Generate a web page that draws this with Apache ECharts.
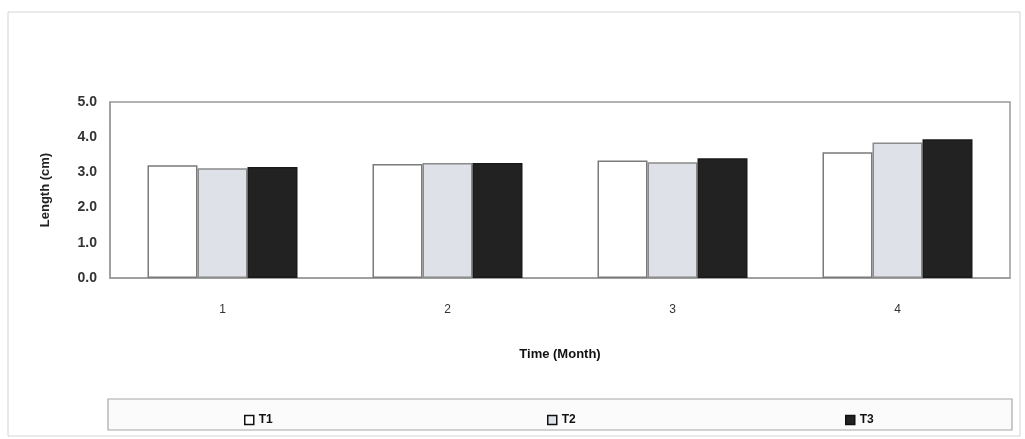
<!DOCTYPE html>
<html>
<head>
<meta charset="utf-8">
<title>Length over time</title>
<script src="https://cdn.jsdelivr.net/npm/echarts@6/dist/echarts.min.js"></script>
<style>
  html, body { margin: 0; padding: 0; background: #fff; }
  #chart { width: 1025px; height: 439px; }
</style>
</head>
<body>
<div id="chart"></div>
<script>
// Months on the x axis
const months = ['1', '2', '3', '4'];

// Mean length (cm) per treatment
const t1 = [3.20, 3.24, 3.34, 3.57];
const t2 = [3.12, 3.27, 3.29, 3.85];
const t3 = [3.15, 3.27, 3.40, 3.94];

const seriesNames = ['T1', 'T2', 'T3'];
// Horizontal position of each legend entry inside the legend box
const legendLeft = [239, 542, 840];

const chart = echarts.init(document.getElementById('chart'), null, { renderer: 'canvas' });

const fontFamily = '"Liberation Sans", Arial, sans-serif';

function barSeries(name, data, fill, border) {
  return {
    name: name,
    type: 'bar',
    data: data,
    barWidth: 50,
    barGap: '0%',
    itemStyle: { color: fill, borderColor: border, borderWidth: 1.5 },
    emphasis: { disabled: true }
  };
}

const legends = seriesNames.map((name, i) => ({
  data: [name],
  left: legendLeft[i],
  top: 409,
  itemWidth: 9,
  itemHeight: 9,
  icon: 'rect',
  selectedMode: false,
  itemStyle: { borderColor: '#111', borderWidth: 1.5 },
  textStyle: { fontFamily, fontSize: 12, fontWeight: 'bold', color: '#111' }
}));

chart.setOption({
  animation: false,
  backgroundColor: '#ffffff',
  grid: {
    left: 110, right: 15, top: 102, bottom: 161,
    show: true, borderColor: '#9a9a9a', borderWidth: 1.5, backgroundColor: 'transparent'
  },
  xAxis: {
    type: 'category',
    data: months,
    name: 'Time (Month)',
    nameLocation: 'middle',
    nameGap: 70,
    nameTextStyle: { fontFamily, fontSize: 13, fontWeight: 'bold', color: '#111' },
    axisLine: { show: true, lineStyle: { color: '#9a9a9a', width: 1.5 } },
    axisTick: { show: false },
    axisLabel: { margin: 26, fontFamily, fontSize: 12, color: '#333' }
  },
  yAxis: {
    type: 'value',
    min: 0, max: 5, interval: 1,
    name: 'Length (cm)',
    nameLocation: 'middle',
    nameGap: 58,
    nameTextStyle: { fontFamily, fontSize: 13, fontWeight: 'bold', color: '#222' },
    axisLine: { show: true, lineStyle: { color: '#9a9a9a', width: 1.5 } },
    axisTick: { show: false },
    splitLine: { show: false },
    axisLabel: {
      margin: 13, fontFamily, fontSize: 14, fontWeight: 'bold', color: '#333',
      formatter: v => v.toFixed(1)
    }
  },
  legend: legends,
  graphic: [
    {
      type: 'rect',
      shape: { x: 8, y: 12, width: 1012, height: 424 },
      style: { fill: 'none', stroke: '#d4d4d4', lineWidth: 1 },
      silent: true, z: -1
    },
    {
      type: 'rect',
      shape: { x: 108, y: 399, width: 904, height: 31 },
      style: { fill: '#fbfbfb', stroke: '#a8a8a8', lineWidth: 1.2 },
      silent: true, z: -1
    }
  ],
  series: [
    barSeries('T1', t1, '#ffffff', '#7a7a7a'),
    barSeries('T2', t2, '#dfe1e8', '#8a8a8a'),
    barSeries('T3', t3, '#222222', '#1a1a1a')
  ]
});
</script>
</body>
</html>
